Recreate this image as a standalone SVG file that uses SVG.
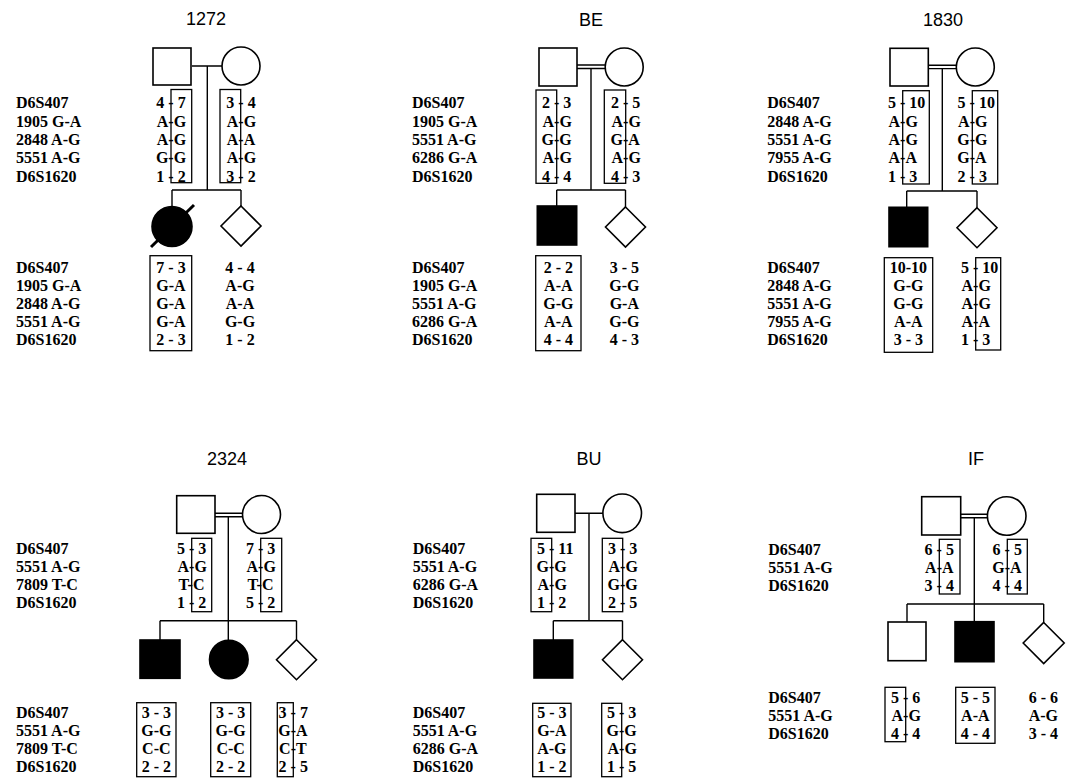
<svg xmlns="http://www.w3.org/2000/svg" width="1073" height="778" viewBox="0 0 1073 778">
<style>
.ttl{font-family:"Liberation Sans",Arial,sans-serif;font-size:18px;text-anchor:middle;fill:#000}
.lbl,.al{font-family:"Liberation Serif","Times New Roman",serif;font-weight:bold;font-size:16px;fill:#000}
.c{text-anchor:middle}
.sym{fill:#fff;stroke:#000;stroke-width:1.6}
.aff{fill:#000;stroke:#000;stroke-width:1.6}
.box{fill:none;stroke:#000;stroke-width:1.3}
.ln{fill:none;stroke:#000;stroke-width:1.4}
</style>
<rect width="1073" height="778" fill="#fff"/>

<g id="titles">
<text class="ttl" x="206" y="25">1272</text>
<text class="ttl" x="591" y="26">BE</text>
<text class="ttl" x="943" y="26">1830</text>
<text class="ttl" x="227" y="465">2324</text>
<text class="ttl" x="589" y="465">BU</text>
<text class="ttl" x="976" y="465">IF</text>
</g>

<g id="connectors" class="ln">
<!-- 1272 -->
<path d="M192,66H222M207.3,66V190M172,190H241M172,190V206.5M241,190V206"/>
<!-- BE -->
<path d="M577,65H605.2M577,68.5H605.2M591,68.5V190M556.7,190H625.5M556.7,190V206M625.5,190V207"/>
<!-- 1830 -->
<path d="M928.3,65.2H956.5M928.3,68.6H956.5M942.3,68.6V191M906.7,191H977M906.7,191V207.3M977,191V207.7"/>
<!-- 2324 -->
<path d="M215,513.3H242.5M215,516.7H242.5M228.3,516.7V640M160,620.7H296.5M160,620.7V640M296.5,620.7V639.7"/>
<!-- BU -->
<path d="M575,513.3H603M589,513.3V620.7M553.3,620.7H622.5M553.3,620.7V640M622.5,620.7V639.7"/>
<!-- IF -->
<path d="M960.7,514.3H987.5M960.7,517.7H987.5M974.3,517.7V621.7M907,604H1043.7M907,604V622M1043.7,604V622.5"/>
</g>

<!-- ===== 1272 ===== -->
<g id="p1272-labels" class="lbl">
<text x="16" y="108.3">D6S407</text>
<text x="16" y="126.6">1905 G-A</text>
<text x="16" y="144.9">2848 A-G</text>
<text x="16" y="163.2">5551 A-G</text>
<text x="16" y="181.5">D6S1620</text>
<text x="16" y="273.3">D6S407</text>
<text x="16" y="291.1">1905 G-A</text>
<text x="16" y="308.9">2848 A-G</text>
<text x="16" y="326.7">5551 A-G</text>
<text x="16" y="344.5">D6S1620</text>
</g>
<g id="p1272-father">
<rect class="sym" x="153" y="48" width="38" height="37"/>
<rect class="box" x="171" y="89.5" width="20.7" height="93.2"/>
<g class="al">
<text x="156.3" y="108.3">4 - 7</text>
<text x="156.8" y="126.6">A-G</text>
<text x="156.8" y="144.9">A-G</text>
<text x="155.9" y="163.2">G-G</text>
<text x="156.3" y="181.5">1 - 2</text>
</g>
</g>
<g id="p1272-mother">
<circle class="sym" cx="241" cy="66" r="19"/>
<rect class="box" x="220" y="89.5" width="20.7" height="93.2"/>
<g class="al">
<text x="226.3" y="108.3">3 - 4</text>
<text x="226.8" y="126.6">A-G</text>
<text x="226.8" y="144.9">A-A</text>
<text x="226.8" y="163.2">A-G</text>
<text x="226.3" y="181.5">3 - 2</text>
</g>
</g>
<g id="p1272-child1">
<circle class="aff" cx="172" cy="226.5" r="20"/>
<line x1="151" y1="247" x2="194" y2="205" stroke="#000" stroke-width="3"/>
<rect class="box" x="150" y="255.7" width="41.7" height="95"/>
<g class="al c">
<text x="171" y="273.3">7 - 3</text>
<text x="171" y="291.1">G-A</text>
<text x="171" y="308.9">G-A</text>
<text x="171" y="326.7">G-A</text>
<text x="171" y="344.5">2 - 3</text>
</g>
</g>
<g id="p1272-child2">
<polygon class="sym" points="241,206 261,226 241,246 221,226"/>
<g class="al c">
<text x="240" y="273.3">4 - 4</text>
<text x="240" y="291.1">A-G</text>
<text x="240" y="308.9">A-A</text>
<text x="240" y="326.7">G-G</text>
<text x="240" y="344.5">1 - 2</text>
</g>
</g>

<!-- ===== BE ===== -->
<g id="pBE-labels" class="lbl">
<text x="412" y="108.3">D6S407</text>
<text x="412" y="126.6">1905 G-A</text>
<text x="412" y="144.9">5551 A-G</text>
<text x="412" y="163.2">6286 G-A</text>
<text x="412" y="181.5">D6S1620</text>
<text x="412" y="273.3">D6S407</text>
<text x="412" y="291.1">1905 G-A</text>
<text x="412" y="308.9">5551 A-G</text>
<text x="412" y="326.7">6286 G-A</text>
<text x="412" y="344.5">D6S1620</text>
</g>
<g id="pBE-father">
<rect class="sym" x="539" y="48" width="38" height="38"/>
<rect class="box" x="536" y="90" width="20.7" height="93.3"/>
<g class="al">
<text x="542" y="108.3">2 - 3</text>
<text x="542.5" y="126.6">A-G</text>
<text x="541.6" y="144.9">G-G</text>
<text x="542.5" y="163.2">A-G</text>
<text x="542" y="181.5">4 - 4</text>
</g>
</g>
<g id="pBE-mother">
<circle class="sym" cx="624.2" cy="67" r="19"/>
<rect class="box" x="604.3" y="90" width="21.4" height="93.3"/>
<g class="al">
<text x="611" y="108.3">2 - 5</text>
<text x="611.5" y="126.6">A-G</text>
<text x="610.6" y="144.9">G-A</text>
<text x="611.5" y="163.2">A-G</text>
<text x="611" y="181.5">4 - 3</text>
</g>
</g>
<g id="pBE-child1">
<rect class="aff" x="537.3" y="206" width="39.4" height="39"/>
<rect class="box" x="535.7" y="255.7" width="45.3" height="95"/>
<g class="al c">
<text x="558.3" y="273.3">2 - 2</text>
<text x="558.3" y="291.1">A-A</text>
<text x="558.3" y="308.9">G-G</text>
<text x="558.3" y="326.7">A-A</text>
<text x="558.3" y="344.5">4 - 4</text>
</g>
</g>
<g id="pBE-child2">
<polygon class="sym" points="625.5,207 645.5,227 625.5,247 605.5,227"/>
<g class="al c">
<text x="624.3" y="273.3">3 - 5</text>
<text x="624.3" y="291.1">G-G</text>
<text x="624.3" y="308.9">G-A</text>
<text x="624.3" y="326.7">G-G</text>
<text x="624.3" y="344.5">4 - 3</text>
</g>
</g>

<!-- ===== 1830 ===== -->
<g id="p1830-labels" class="lbl">
<text x="767.3" y="108.3">D6S407</text>
<text x="767.3" y="126.6">2848 A-G</text>
<text x="767.3" y="144.9">5551 A-G</text>
<text x="767.3" y="163.2">7955 A-G</text>
<text x="767.3" y="181.5">D6S1620</text>
<text x="767.3" y="273.3">D6S407</text>
<text x="767.3" y="291.1">2848 A-G</text>
<text x="767.3" y="308.9">5551 A-G</text>
<text x="767.3" y="326.7">7955 A-G</text>
<text x="767.3" y="344.5">D6S1620</text>
</g>
<g id="p1830-father">
<rect class="sym" x="890" y="48.3" width="38.3" height="37.7"/>
<rect class="box" x="902.7" y="90.7" width="26.6" height="93.3"/>
<g class="al">
<text x="888" y="108.3">5 - 10</text>
<text x="888.5" y="126.6">A-G</text>
<text x="888.5" y="144.9">A-G</text>
<text x="888.5" y="163.2">A-A</text>
<text x="888" y="181.5">1 - 3</text>
</g>
</g>
<g id="p1830-mother">
<circle class="sym" cx="975.3" cy="67" r="19"/>
<rect class="box" x="972.3" y="90.7" width="25.4" height="93.3"/>
<g class="al">
<text x="957.6" y="108.3">5 - 10</text>
<text x="958.1" y="126.6">A-G</text>
<text x="957.2" y="144.9">G-G</text>
<text x="957.2" y="163.2">G-A</text>
<text x="957.6" y="181.5">2 - 3</text>
</g>
</g>
<g id="p1830-child1">
<rect class="aff" x="889" y="207.3" width="38.7" height="39.4"/>
<rect class="box" x="884.3" y="257.7" width="48.4" height="94.6"/>
<g class="al c">
<text x="908.3" y="273.3">10-10</text>
<text x="908.3" y="291.1">G-G</text>
<text x="908.3" y="308.9">G-G</text>
<text x="908.3" y="326.7">A-A</text>
<text x="908.3" y="344.5">3 - 3</text>
</g>
</g>
<g id="p1830-child2">
<polygon class="sym" points="977,207.7 997,227.7 977,247.7 957,227.7"/>
<rect class="box" x="975.7" y="257.7" width="25" height="92.3"/>
<g class="al">
<text x="961" y="273.3">5 - 10</text>
<text x="961.5" y="291.1">A-G</text>
<text x="961.5" y="308.9">A-G</text>
<text x="961.5" y="326.7">A-A</text>
<text x="961" y="344.5">1 - 3</text>
</g>
</g>

<!-- ===== 2324 ===== -->
<g id="p2324-labels" class="lbl">
<text x="16" y="554">D6S407</text>
<text x="16" y="572">5551 A-G</text>
<text x="16" y="590">7809 T-C</text>
<text x="16" y="608">D6S1620</text>
<text x="16" y="718">D6S407</text>
<text x="16" y="736">5551 A-G</text>
<text x="16" y="754">7809 T-C</text>
<text x="16" y="772">D6S1620</text>
</g>
<g id="p2324-father">
<rect class="sym" x="176.7" y="495.7" width="38.3" height="37.6"/>
<rect class="box" x="191.7" y="538.3" width="20" height="73.4"/>
<g class="al">
<text x="177" y="554">5 - 3</text>
<text x="177.5" y="572">A-G</text>
<text x="178.4" y="590">T-C</text>
<text x="177" y="608">1 - 2</text>
</g>
</g>
<g id="p2324-mother">
<circle class="sym" cx="261.5" cy="514.5" r="19"/>
<rect class="box" x="260.7" y="538.3" width="21" height="73.4"/>
<g class="al">
<text x="246" y="554">7 - 3</text>
<text x="246.5" y="572">A-G</text>
<text x="247.4" y="590">T-C</text>
<text x="246" y="608">5 - 2</text>
</g>
</g>
<g id="p2324-child1">
<rect class="aff" x="140" y="640" width="40" height="38.3"/>
<rect class="box" x="136.7" y="702.7" width="39.3" height="74"/>
<g class="al c">
<text x="156.3" y="718">3 - 3</text>
<text x="156.3" y="736">G-G</text>
<text x="156.3" y="754">C-C</text>
<text x="156.3" y="772">2 - 2</text>
</g>
</g>
<g id="p2324-child2">
<circle class="aff" cx="228.8" cy="659.5" r="19.3"/>
<rect class="box" x="210.7" y="702.7" width="40" height="74"/>
<g class="al c">
<text x="230.7" y="718">3 - 3</text>
<text x="230.7" y="736">G-G</text>
<text x="230.7" y="754">C-C</text>
<text x="230.7" y="772">2 - 2</text>
</g>
</g>
<g id="p2324-child3">
<polygon class="sym" points="296.5,639.7 316.5,659.7 296.5,679.7 276.5,659.7"/>
<rect class="box" x="277.3" y="702.7" width="16" height="74"/>
<g class="al">
<text x="278.6" y="718">3 - 7</text>
<text x="278.2" y="736">G-A</text>
<text x="279.1" y="754">C-T</text>
<text x="278.6" y="772">2 - 5</text>
</g>
</g>

<!-- ===== BU ===== -->
<g id="pBU-labels" class="lbl">
<text x="412.7" y="554">D6S407</text>
<text x="412.7" y="572">5551 A-G</text>
<text x="412.7" y="590">6286 G-A</text>
<text x="412.7" y="608">D6S1620</text>
<text x="412.7" y="718">D6S407</text>
<text x="412.7" y="736">5551 A-G</text>
<text x="412.7" y="754">6286 G-A</text>
<text x="412.7" y="772">D6S1620</text>
</g>
<g id="pBU-father">
<rect class="sym" x="536.7" y="494.3" width="38.3" height="38"/>
<rect class="box" x="531" y="538.3" width="20.7" height="73.4"/>
<g class="al">
<text x="537" y="554">5 - 11</text>
<text x="536.6" y="572">G-G</text>
<text x="537.5" y="590">A-G</text>
<text x="537" y="608">1 - 2</text>
</g>
</g>
<g id="pBU-mother">
<circle class="sym" cx="622.2" cy="513.3" r="19.3"/>
<rect class="box" x="602.3" y="538.3" width="20.4" height="73.4"/>
<g class="al">
<text x="608" y="554">3 - 3</text>
<text x="608.5" y="572">A-G</text>
<text x="607.6" y="590">G-G</text>
<text x="608" y="608">2 - 5</text>
</g>
</g>
<g id="pBU-child1">
<rect class="aff" x="534" y="640" width="38.7" height="38"/>
<rect class="box" x="532.7" y="703.3" width="38.3" height="73.4"/>
<g class="al c">
<text x="551.8" y="718">5 - 3</text>
<text x="551.8" y="736">G-A</text>
<text x="551.8" y="754">A-G</text>
<text x="551.8" y="772">1 - 2</text>
</g>
</g>
<g id="pBU-child2">
<polygon class="sym" points="622.5,639.7 642.5,659.7 622.5,679.7 602.5,659.7"/>
<rect class="box" x="601.7" y="703.3" width="20" height="73.4"/>
<g class="al">
<text x="607" y="718">5 - 3</text>
<text x="606.6" y="736">G-G</text>
<text x="607.5" y="754">A-G</text>
<text x="607" y="772">1 - 5</text>
</g>
</g>

<!-- ===== IF ===== -->
<g id="pIF-labels" class="lbl">
<text x="768.3" y="555">D6S407</text>
<text x="768.3" y="573">5551 A-G</text>
<text x="768.3" y="591">D6S1620</text>
<text x="768.3" y="703">D6S407</text>
<text x="768.3" y="721">5551 A-G</text>
<text x="768.3" y="739">D6S1620</text>
</g>
<g id="pIF-father">
<rect class="sym" x="921.7" y="496.7" width="39" height="38.3"/>
<rect class="box" x="939.3" y="539.3" width="20.7" height="54.7"/>
<g class="al">
<text x="924.6" y="555">6 - 5</text>
<text x="925.1" y="573">A-A</text>
<text x="924.6" y="591">3 - 4</text>
</g>
</g>
<g id="pIF-mother">
<circle class="sym" cx="1006.7" cy="516" r="19.3"/>
<rect class="box" x="1007.3" y="539.3" width="20" height="54.7"/>
<g class="al">
<text x="992.6" y="555">6 - 5</text>
<text x="992.2" y="573">G-A</text>
<text x="992.6" y="591">4 - 4</text>
</g>
</g>
<g id="pIF-child1">
<rect class="sym" x="888" y="622" width="38" height="38.7"/>
<rect class="box" x="885" y="687.3" width="20.7" height="54.4"/>
<g class="al">
<text x="891" y="703">5 - 6</text>
<text x="891.5" y="721">A-G</text>
<text x="891" y="739">4 - 4</text>
</g>
</g>
<g id="pIF-child2">
<rect class="aff" x="955" y="621.7" width="39" height="40"/>
<rect class="box" x="955.7" y="687.3" width="39.3" height="56"/>
<g class="al c">
<text x="975.3" y="703">5 - 5</text>
<text x="975.3" y="721">A-A</text>
<text x="975.3" y="739">4 - 4</text>
</g>
</g>
<g id="pIF-child3">
<polygon class="sym" points="1043.7,622.5 1064.2,643 1043.7,663.5 1023.2,643"/>
<g class="al c">
<text x="1043.3" y="703">6 - 6</text>
<text x="1043.3" y="721">A-G</text>
<text x="1043.3" y="739">3 - 4</text>
</g>
</g>
</svg>
